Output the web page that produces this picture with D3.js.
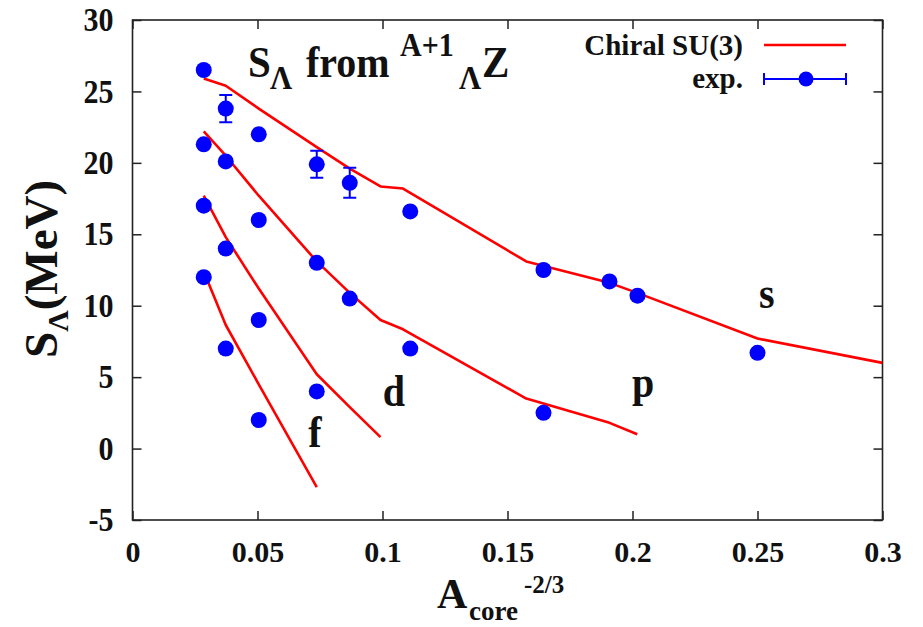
<!DOCTYPE html>
<html>
<head>
<meta charset="utf-8">
<script src="https://cdn.jsdelivr.net/npm/d3@7/dist/d3.min.js"></script>
<style>
  html, body { margin: 0; padding: 0; background: #fff; }
  svg text { font-family: "Liberation Serif", "DejaVu Serif", serif; font-weight: bold; fill: #111; }
</style>
</head>
<body>
<svg id="chart" width="923" height="627"></svg>
<script>
// ---- data ----
const xCore   = [0.0285, 0.0373, 0.0505, 0.0737, 0.0869, 0.1111, 0.1644, 0.1908, 0.2020, 0.2500];
const expS    = [26.5, 23.8, 22.0, 19.9, 18.6, 16.6, 12.5, 11.7, 10.7, 6.7];
const errS    = [0, 0.95, 0, 0.95, 1.05, 0, 0, 0, 0, 0];
const expP    = [21.3, 20.1, 16.0, 13.0, 10.5, 7.0, 2.5];
const expD    = [17.0, 14.0, 9.0, 4.0];
const expF    = [12.0, 7.0, 2.0];

const thSX = [0.0285, 0.0373, 0.0505, 0.0737, 0.0869, 0.0992, 0.1082, 0.1575, 0.1908, 0.2019, 0.2500, 0.3000];
const thSY = [25.9, 25.4, 23.8, 21.1, 19.6, 18.35, 18.2, 13.1, 11.6, 10.9, 7.7, 6.0];
const thPX = [0.0285, 0.0373, 0.0505, 0.0737, 0.0869, 0.0992, 0.1082, 0.1575, 0.1908, 0.2019];
const thPY = [22.2, 20.5, 17.7, 13.1, 10.9, 9.0, 8.35, 3.5, 1.8, 1.0];
const thDX = [0.0285, 0.0373, 0.0505, 0.0737, 0.0869, 0.0992];
const thDY = [17.7, 14.8, 11.2, 5.2, 2.9, 0.8];
const thFX = [0.0285, 0.0373, 0.0505, 0.0737];
const thFY = [12.4, 8.65, 4.5, -2.7];

const xTicks = [0, 0.05, 0.1, 0.15, 0.2, 0.25, 0.3];
const xTickLabels = ["0", "0.05", "0.1", "0.15", "0.2", "0.25", "0.3"];
const yTicks = [-5, 0, 5, 10, 15, 20, 25, 30];
const yTickLabels = ["-5", "0", "5", "10", "15", "20", "25", "30"];

const waveLabels = ["s", "p", "d", "f"];
const waveLabelX = [0.2537, 0.2043, 0.1046, 0.0730];
const waveLabelY = [9.9, 3.7, 3.1, 0.2];

// ---- layout ----
const svg = d3.select("#chart");
const L = 132.5, R = 882.5, T = 20, B = 520;
const x = d3.scaleLinear().domain([0, 0.3]).range([L, R]);
const y = d3.scaleLinear().domain([-5, 30]).range([B, T]);
const STRETCH = 1.1;

function stretch(sel) {
  return sel.style("transform-box", "fill-box").style("transform-origin", "center")
            .style("transform", "scaleY(" + STRETCH + ")");
}

svg.append("rect").attr("width", 923).attr("height", 627).attr("fill", "#fff");

svg.append("clipPath").attr("id", "clip").append("rect")
  .attr("x", L).attr("y", T).attr("width", R - L).attr("height", B - T);

// axes (inward ticks on all sides)
const tickLen = 9;
const gx = svg.append("g").attr("transform", `translate(0,${B})`)
  .call(d3.axisBottom(x).tickValues(xTicks).tickSize(-tickLen).tickPadding(21)
        .tickFormat((d, i) => xTickLabels[i]));
const gx2 = svg.append("g").attr("transform", `translate(0,${T})`)
  .call(d3.axisTop(x).tickValues(xTicks).tickSize(-tickLen).tickFormat(""));
const gy = svg.append("g").attr("transform", `translate(${L},0)`)
  .call(d3.axisLeft(y).tickValues(yTicks).tickSize(-tickLen).tickPadding(19)
        .tickFormat((d, i) => yTickLabels[i]));
const gy2 = svg.append("g").attr("transform", `translate(${R},0)`)
  .call(d3.axisRight(y).tickValues(yTicks).tickSize(-tickLen).tickFormat(""));

[gx, gx2, gy, gy2].forEach(g => {
  g.select(".domain").remove();
  g.selectAll(".tick line").attr("stroke", "#222").attr("stroke-width", 1.5);
  g.selectAll("text").attr("font-size", 30).attr("fill", "#111")
   .attr("font-family", '"Liberation Serif", serif').attr("font-weight", "bold");
});
stretch(gy.selectAll("text"));

svg.append("rect").attr("x", L).attr("y", T).attr("width", R - L).attr("height", B - T)
  .attr("fill", "none").attr("stroke", "#222").attr("stroke-width", 1.6);

// theory lines
const line = d3.line().x(d => x(d[0])).y(d => y(d[1]));
const plot = svg.append("g").attr("clip-path", "url(#clip)");
[[thSX, thSY], [thPX, thPY], [thDX, thDY], [thFX, thFY]].forEach(([xs, ys]) => {
  plot.append("path").datum(xs.map((v, i) => [v, ys[i]]))
    .attr("d", line).attr("fill", "none").attr("stroke", "#ff0000")
    .attr("stroke-width", 2.6).attr("stroke-linejoin", "round");
});

// experimental points
const pts = [];
expS.forEach((v, i) => pts.push({ x: xCore[i], y: v, e: errS[i] }));
expP.forEach((v, i) => pts.push({ x: xCore[i], y: v, e: 0 }));
expD.forEach((v, i) => pts.push({ x: xCore[i], y: v, e: 0 }));
expF.forEach((v, i) => pts.push({ x: xCore[i], y: v, e: 0 }));

const eb = plot.append("g").attr("stroke", "#0000ff").attr("stroke-width", 2);
pts.filter(p => p.e > 0).forEach(p => {
  const cx = x(p.x), y1 = y(p.y + p.e), y2 = y(p.y - p.e);
  eb.append("line").attr("x1", cx).attr("x2", cx).attr("y1", y1).attr("y2", y2);
  eb.append("line").attr("x1", cx - 6.5).attr("x2", cx + 6.5).attr("y1", y1).attr("y2", y1);
  eb.append("line").attr("x1", cx - 6.5).attr("x2", cx + 6.5).attr("y1", y2).attr("y2", y2);
});
plot.append("g").selectAll("circle").data(pts).join("circle")
  .attr("cx", d => x(d.x)).attr("cy", d => y(d.y)).attr("r", 8).attr("fill", "#0000ff");

// wave labels
waveLabels.forEach((t, i) => {
  stretch(svg.append("text").attr("x", x(waveLabelX[i])).attr("y", y(waveLabelY[i]))
    .attr("text-anchor", "middle").attr("font-size", 40).text(t));
});

function txt(xp, yp, size, s, anchor, noStretch) {
  const t = svg.append("text").attr("x", xp).attr("y", yp).attr("font-size", size)
    .attr("text-anchor", anchor || "start").text(s);
  return noStretch ? t : stretch(t);
}
// title  S_Λ from ^{A+1}_Λ Z
txt(248, 76, 41, "S");
txt(270, 88, 31, "Λ");
txt(306, 76, 40, "from");
txt(400, 55, 30, "A+1");
txt(459, 88, 31, "Λ");
txt(482, 76, 41, "Z");

// legend
txt(743, 55, 29, "Chiral SU(3)", "end", true);
txt(743, 88, 29, "exp.", "end", true);
svg.append("line").attr("x1", 764).attr("x2", 846).attr("y1", 45).attr("y2", 45)
  .attr("stroke", "#ff0000").attr("stroke-width", 2.6);
const lg = svg.append("g").attr("stroke", "#0000ff").attr("stroke-width", 2);
lg.append("line").attr("x1", 764).attr("x2", 846).attr("y1", 79).attr("y2", 79);
lg.append("line").attr("x1", 764).attr("x2", 764).attr("y1", 73).attr("y2", 85);
lg.append("line").attr("x1", 846).attr("x2", 846).attr("y1", 73).attr("y2", 85);
svg.append("circle").attr("cx", 806).attr("cy", 79).attr("r", 7.5).attr("fill", "#0000ff");

// x axis title A_core^{-2/3}
txt(437, 608, 42, "A", "start", true);
txt(469, 620, 27, "core", "start", true);
txt(524, 593, 25, "-2/3", "start", true);

// y axis title S_Λ(MeV)
const yt = svg.append("text").attr("transform", "translate(57,358) rotate(-90)")
  .attr("font-size", 47);
yt.append("tspan").text("S");
yt.append("tspan").attr("font-size", 30).attr("dy", 11).text("Λ");
yt.append("tspan").attr("dy", -11).text("(MeV)");
</script>
</body>
</html>
